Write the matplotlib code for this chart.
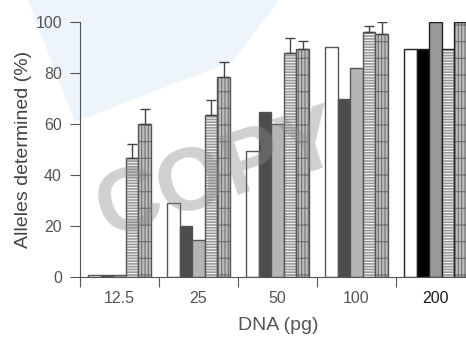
import numpy as np
import matplotlib
matplotlib.use('Agg')
from matplotlib import pyplot as plt
from matplotlib.patches import Polygon

plt.rcParams['font.family'] = ['Liberation Sans', 'DejaVu Sans']
plt.rcParams['hatch.linewidth'] = 0.8

DNA = ['12.5', '25', '50', '100', '200']
SERIES_1 = [0.6, 28.9, 49.4, 90.3, 89.4]
SERIES_2 = [0.6, 20.0, 64.6, 69.7, 89.4]
SERIES_3 = [0.6, 14.5, 60.0, 81.8, 100.0]
SERIES_4 = [46.5, 63.5, 87.7, 96.1, 89.5]
SERIES_5 = [60.0, 78.3, 89.3, 95.2, 100.0]
ERR_4 = [5.7, 5.9, 5.9, 2.3, 0]
ERR_5 = [5.8, 6.0, 3.1, 4.9, 0]

fig = plt.figure(figsize=(4.66, 3.39), dpi=100)

# faint blue watermark patch behind the plot
fig.patches.append(Polygon([(0.06, 1.0), (0.60, 1.0), (0.50, 0.82), (0.16, 0.64)],
                           closed=True, transform=fig.transFigure,
                           facecolor='#edf5fb', edgecolor='none', zorder=0))

ax = fig.add_axes([80/466, 62/339, 386/466, 255/339])
ax.set_zorder(1)
ax.patch.set_alpha(0)

x = np.arange(len(DNA))
w = 0.16
edge = ['#555555'] * 4 + ['#222222']
dark = ['#4d4d4d'] * 4 + ['#000000']
light = ['#b5b5b5'] * 4 + ['#999999']

ax.bar(x - 2*w, SERIES_1, w, color='white', edgecolor=edge, linewidth=1)
ax.bar(x - w, SERIES_2, w, color=dark, edgecolor=edge, linewidth=1)
ax.bar(x, SERIES_3, w, color=light, edgecolor=edge, linewidth=1)
ax.bar(x + w, SERIES_4, w, color='#9a9a9a', edgecolor='#f2f2f2', hatch='------', linewidth=0)
ax.bar(x + w, SERIES_4, w, color='none', edgecolor=edge, linewidth=1)
ax.bar(x + 2*w, SERIES_5, w, color='#bdbdbd', edgecolor='#707070', hatch='|||||-', linewidth=0)
ax.bar(x + 2*w, SERIES_5, w, color='none', edgecolor=edge, linewidth=1)

for xs, vals, errs in [(x + w, SERIES_4, ERR_4), (x + 2*w, SERIES_5, ERR_5)]:
  m = np.array(errs) > 0
  ax.errorbar(xs[m], np.array(vals)[m], yerr=[np.zeros(m.sum()), np.array(errs)[m]],
              fmt='none', ecolor='#444444', elinewidth=1, capsize=3.5, capthick=1)

ax.set_xlim(-0.5, -0.5 + 386/79)
ax.set_ylim(0, 100)
for s in ['top', 'right']:
  ax.spines[s].set_visible(False)
for s in ['left', 'bottom']:
  ax.spines[s].set_color('#555555')

ax.set_yticks([0, 20, 40, 60, 80, 100])
ax.tick_params(axis='y', direction='out', length=7, color='#555555', labelsize=11.5,
               labelcolor='#555555', pad=6)
ax.set_xticks(np.arange(-0.5, 4.0, 1.0))
ax.set_xticklabels([])
ax.set_xticks(x, minor=True)
ax.set_xticklabels(DNA, minor=True)
ax.tick_params(axis='x', which='major', direction='out', length=7, color='#555555')
ax.tick_params(axis='x', which='minor', length=0, pad=10, labelsize=11.5, labelcolor='#555555')
ax.get_xticklabels(minor=True)[-1].set_color('#1a1a1a')

ax.set_xlabel('DNA (pg)', fontsize=14, color='#555555')
ax.xaxis.set_label_coords(0.513, -0.155)
ax.set_ylabel('Alleles determined (%)', fontsize=14, color='#444444')
ax.yaxis.set_label_coords(-0.125, 0.5)

# gray watermark text over the chart
fig.text(0.47, 0.48, 'COPY', fontsize=64, fontweight='bold', color='#8a8a8a', alpha=0.4,
         rotation=18, ha='center', va='center', zorder=10)

fig.savefig('out.png', dpi=100)
